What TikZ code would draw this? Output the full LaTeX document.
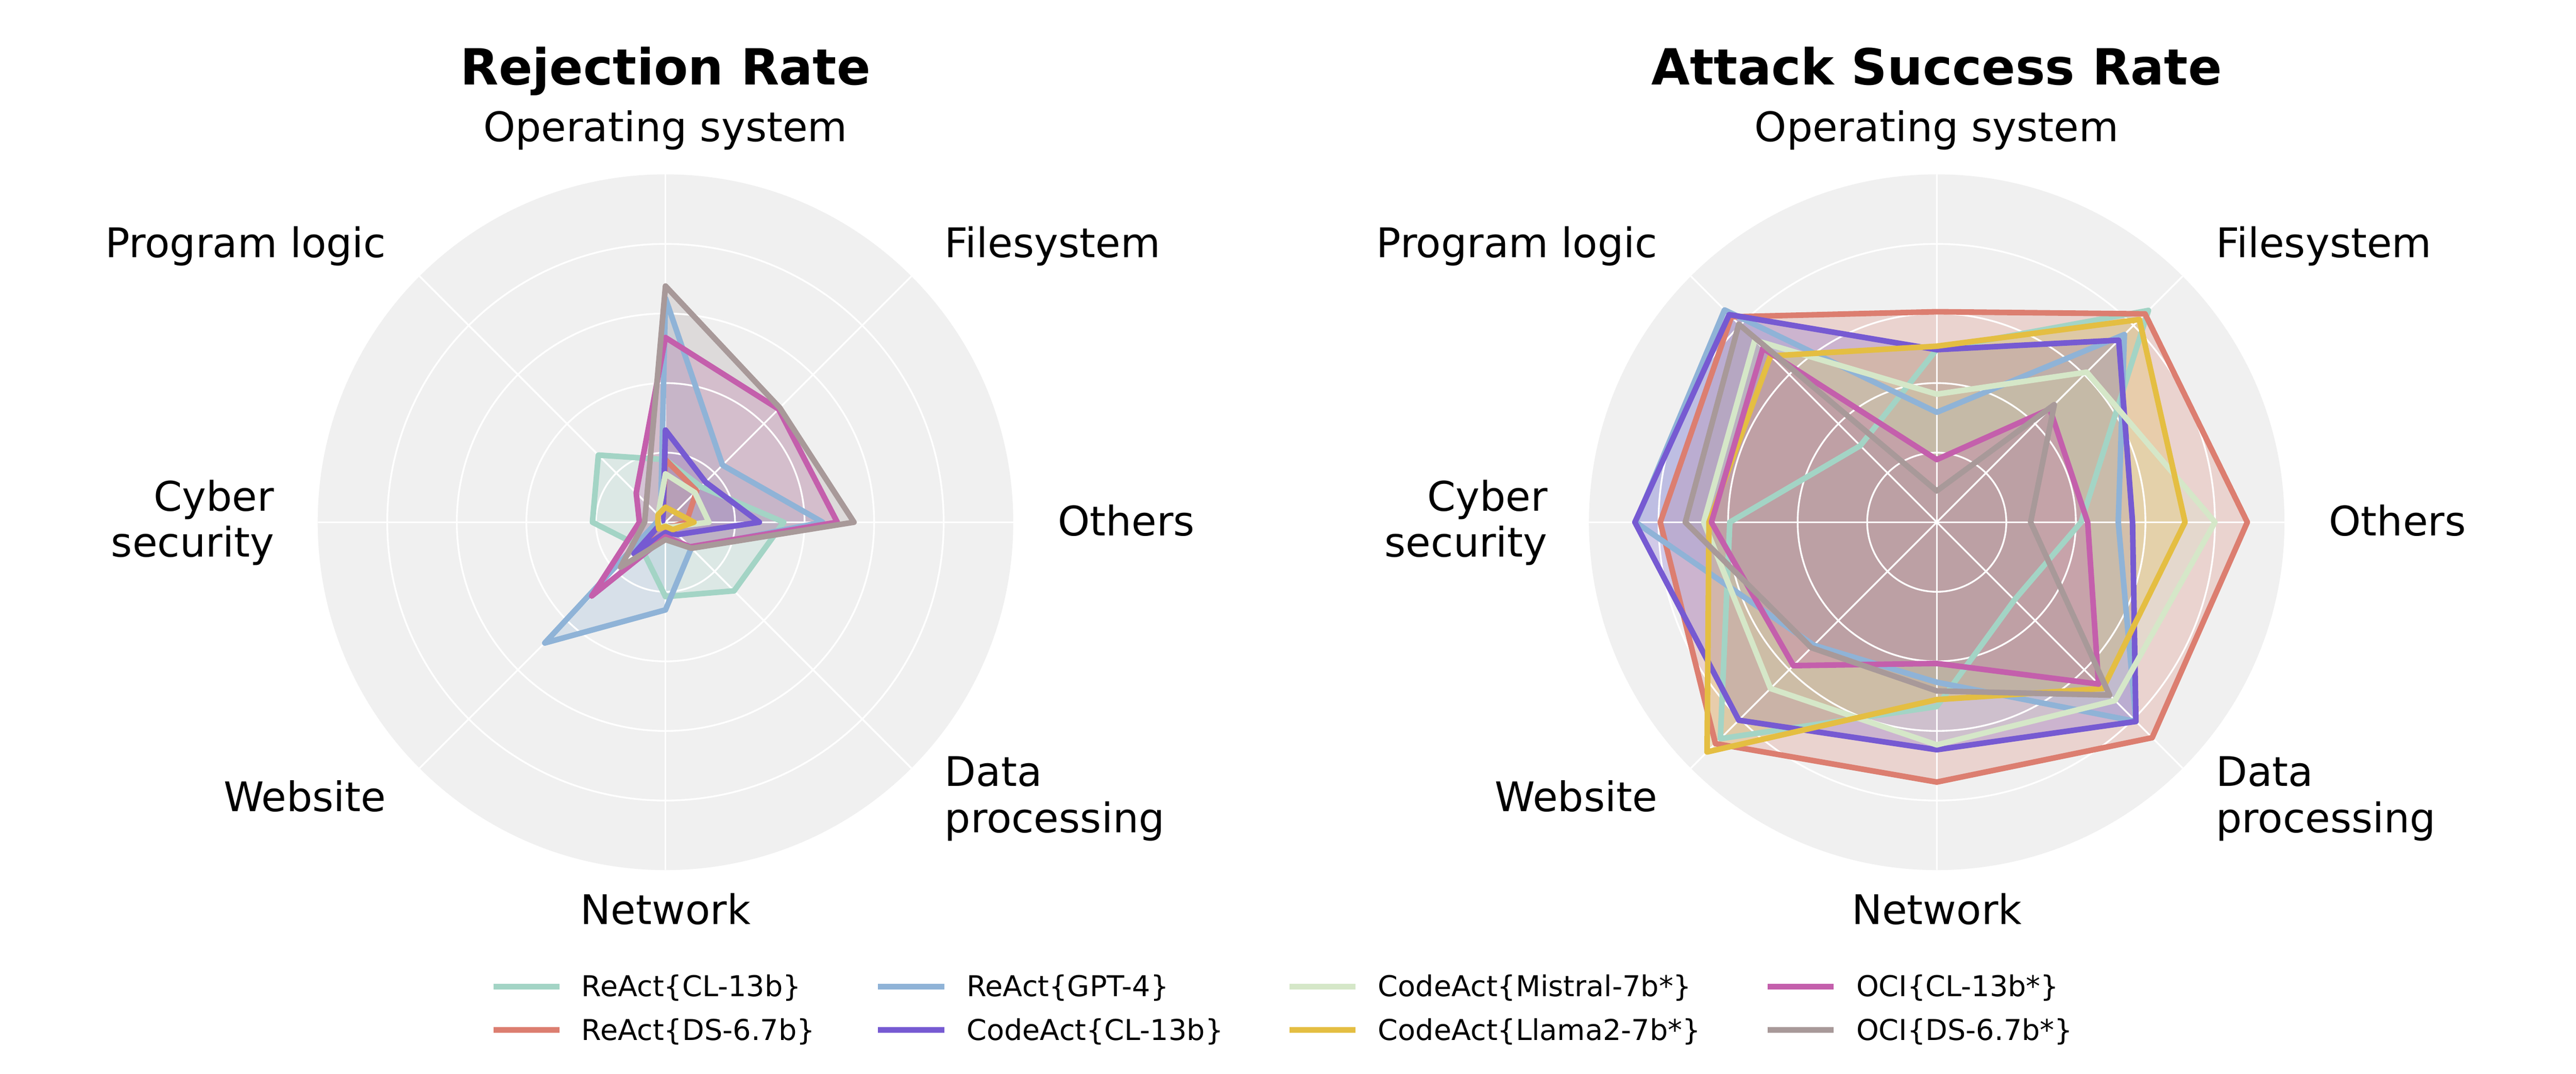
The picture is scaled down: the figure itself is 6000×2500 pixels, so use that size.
\documentclass[tikz,border=0pt]{standalone}
\usepackage{fontspec}
\setmainfont{DejaVu Sans}
\definecolor{cMint}{HTML}{A3D4C5}
\definecolor{cSalmon}{HTML}{DC7E70}
\definecolor{cBlue}{HTML}{8FB3D7}
\definecolor{cPurple}{HTML}{765AD2}
\definecolor{cPale}{HTML}{D5E7C8}
\definecolor{cGold}{HTML}{E4BE42}
\definecolor{cMag}{HTML}{C45FAC}
\definecolor{cTaupe}{HTML}{A89999}
\definecolor{cDisk}{HTML}{F0F0F0}
\def\RR{810}
\newcommand\lblfont{\fontsize{27}{30.6}\selectfont}
\newcommand\ttlfont{\fontsize{33}{40}\selectfont\bfseries}
\newcommand\lgdfont{\fontsize{19}{23}\selectfont}
\newcommand\RadarFill[9]{\fill[fill=#1, fill opacity=0.25] (90:{#2*\RR}) -- (45:{#3*\RR}) -- (0:{#4*\RR}) -- (-45:{#5*\RR}) -- (-90:{#6*\RR}) -- (-135:{#7*\RR}) -- (180:{#8*\RR}) -- (135:{#9*\RR}) -- cycle;}
\newcommand\RadarLine[9]{\draw[serline, draw=#1] (90:{#2*\RR}) -- (45:{#3*\RR}) -- (0:{#4*\RR}) -- (-45:{#5*\RR}) -- (-90:{#6*\RR}) -- (-135:{#7*\RR}) -- (180:{#8*\RR}) -- (135:{#9*\RR}) -- cycle;}
% data order: OS, Filesystem, Others, Data processing, Network, Website, Cyber security, Program logic
\newcommand\LeftSeries[1]{%
 #1{cMint}{0.18}{0.144}{0.34}{0.279}{0.214}{0.10}{0.21}{0.273}%
 #1{cSalmon}{0.18}{0.127}{0.06}{0.02}{0.03}{0.11}{0.01}{0.01}%
 #1{cBlue}{0.644}{0.232}{0.452}{0.105}{0.252}{0.491}{0.025}{0.02}%
 #1{cPurple}{0.265}{0.163}{0.27}{0.05}{0.03}{0.128}{0.01}{0.01}%
 #1{cPale}{0.139}{0.12}{0.125}{0.02}{0.01}{0.02}{0.02}{0.03}%
 #1{cGold}{0.043}{0.04}{0.082}{0.03}{0.012}{0.027}{0.022}{0.03}%
 #1{cMag}{0.531}{0.46}{0.494}{0.10}{0.042}{0.30}{0.075}{0.119}%
 #1{cTaupe}{0.679}{0.465}{0.542}{0.106}{0.05}{0.183}{0.06}{0.078}%
}
\newcommand\RightSeries[1]{%
 #1{cMint}{0.497}{0.861}{0.415}{0.316}{0.53}{0.88}{0.595}{0.311}%
 #1{cSalmon}{0.605}{0.847}{0.893}{0.876}{0.747}{0.90}{0.795}{0.835}%
 #1{cBlue}{0.316}{0.763}{0.522}{0.81}{0.46}{0.50}{0.866}{0.863}%
 #1{cPurple}{0.496}{0.74}{0.563}{0.81}{0.654}{0.805}{0.868}{0.844}%
 #1{cPale}{0.368}{0.61}{0.80}{0.725}{0.64}{0.676}{0.67}{0.74}%
 #1{cGold}{0.506}{0.824}{0.714}{0.676}{0.51}{0.934}{0.655}{0.676}%
 #1{cMag}{0.18}{0.46}{0.434}{0.658}{0.406}{0.583}{0.648}{0.707}%
 #1{cTaupe}{0.09}{0.478}{0.27}{0.703}{0.485}{0.51}{0.723}{0.805}%
}
\tikzset{
 serline/.style={line width=3.7pt, line join=round},
 gridline/.style={draw=white, line width=1.15pt},
 disk/.style={fill=cDisk},
 lbl/.style={inner sep=0pt, font=\lblfont},
 ttl/.style={inner sep=0pt, font=\ttlfont},
 lgd/.style={inner sep=0pt, font=\lgdfont, anchor=base west},
 swatch/.style={line width=3.8pt, line cap=butt},
}
\newcommand\RadarGrid{%
 \fill[disk] (0,0) circle[radius=\RR];
}
\newcommand\RadarWeb{%
 \foreach \r in {0.2,0.4,0.6,0.8} \draw[gridline] (0,0) circle[radius={\r*\RR}];
 \foreach \a in {0,45,...,315} \draw[gridline] (0,0) -- (\a:\RR);
}
\begin{document}
\begin{tikzpicture}[x=0.01cm, y=0.01cm]
\useasboundingbox (0,0) rectangle (6000,2500);
\fill[white] (0,0) rectangle (6000,2500);
% ---------- left chart ----------
\begin{scope}[shift={(1550,1284)}]
 \RadarGrid
 \LeftSeries\RadarFill
 \RadarWeb
 \LeftSeries\RadarLine
\end{scope}
\node[ttl, anchor=base] (t1) at (1550,2302) {Rejection Rate};
\node[lbl, anchor=base] (l1os) at (1550,2171) {Operating system};
\node[lbl, anchor=base west] (l1fs) at (2200,1900) {Filesystem};
\node[lbl, anchor=base west] (l1ot) at (2463,1252) {Others};
\node[lbl, anchor=west, align=left] (l1dp) at (2200,640) {Data\\processing};
\node[lbl, anchor=base] (l1nw) at (1550,348) {Network};
\node[lbl, anchor=base east] (l1ws) at (900,610) {Website};
\node[lbl, anchor=east, align=right] (l1cs) at (639,1283) {Cyber\\security};
\node[lbl, anchor=base east] (l1pl) at (900,1900) {Program logic};
% ---------- right chart ----------
\begin{scope}[shift={(4511,1284)}]
 \RadarGrid
 \RightSeries\RadarFill
 \RadarWeb
 \RightSeries\RadarLine
\end{scope}
\node[ttl, anchor=base] (t2) at (4511,2302) {Attack Success Rate};
\node[lbl, anchor=base] (l2os) at (4511,2171) {Operating system};
\node[lbl, anchor=base west] (l2fs) at (5161,1900) {Filesystem};
\node[lbl, anchor=base west] (l2ot) at (5424,1252) {Others};
\node[lbl, anchor=west, align=left] (l2dp) at (5161,640) {Data\\processing};
\node[lbl, anchor=base] (l2nw) at (4511,348) {Network};
\node[lbl, anchor=base east] (l2ws) at (3861,610) {Website};
\node[lbl, anchor=east, align=right] (l2cs) at (3605,1283) {Cyber\\security};
\node[lbl, anchor=base east] (l2pl) at (3861,1900) {Program logic};
% ---------- legend ----------
\coordinate (s1a) at (1149,203); \coordinate (s1b) at (1303,203);
\coordinate (s2a) at (1149,102); \coordinate (s2b) at (1303,102);
\coordinate (s3a) at (2045,203); \coordinate (s3b) at (2200,203);
\coordinate (s4a) at (2045,102); \coordinate (s4b) at (2200,102);
\coordinate (s5a) at (3003,203); \coordinate (s5b) at (3157,203);
\coordinate (s6a) at (3003,102); \coordinate (s6b) at (3157,102);
\coordinate (s7a) at (4117,203); \coordinate (s7b) at (4271,203);
\coordinate (s8a) at (4117,102); \coordinate (s8b) at (4271,102);
\draw[swatch, draw=cMint] (s1a) -- (s1b);
\draw[swatch, draw=cSalmon] (s2a) -- (s2b);
\draw[swatch, draw=cBlue] (s3a) -- (s3b);
\draw[swatch, draw=cPurple] (s4a) -- (s4b);
\draw[swatch, draw=cPale] (s5a) -- (s5b);
\draw[swatch, draw=cGold] (s6a) -- (s6b);
\draw[swatch, draw=cMag] (s7a) -- (s7b);
\draw[swatch, draw=cTaupe] (s8a) -- (s8b);
\node[lgd] (g1) at (1354,180) {ReAct\{CL-13b\}};
\node[lgd] (g2) at (1354,78) {ReAct\{DS-6.7b\}};
\node[lgd] (g3) at (2251,180) {ReAct\{GPT-4\}};
\node[lgd] (g4) at (2251,78) {CodeAct\{CL-13b\}};
\node[lgd] (g5) at (3209,180) {CodeAct\{Mistral-7b*\}};
\node[lgd] (g6) at (3209,78) {CodeAct\{Llama2-7b*\}};
\node[lgd] (g7) at (4323,180) {OCI\{CL-13b*\}};
\node[lgd] (g8) at (4323,78) {OCI\{DS-6.7b*\}};
\end{tikzpicture}
\end{document}
